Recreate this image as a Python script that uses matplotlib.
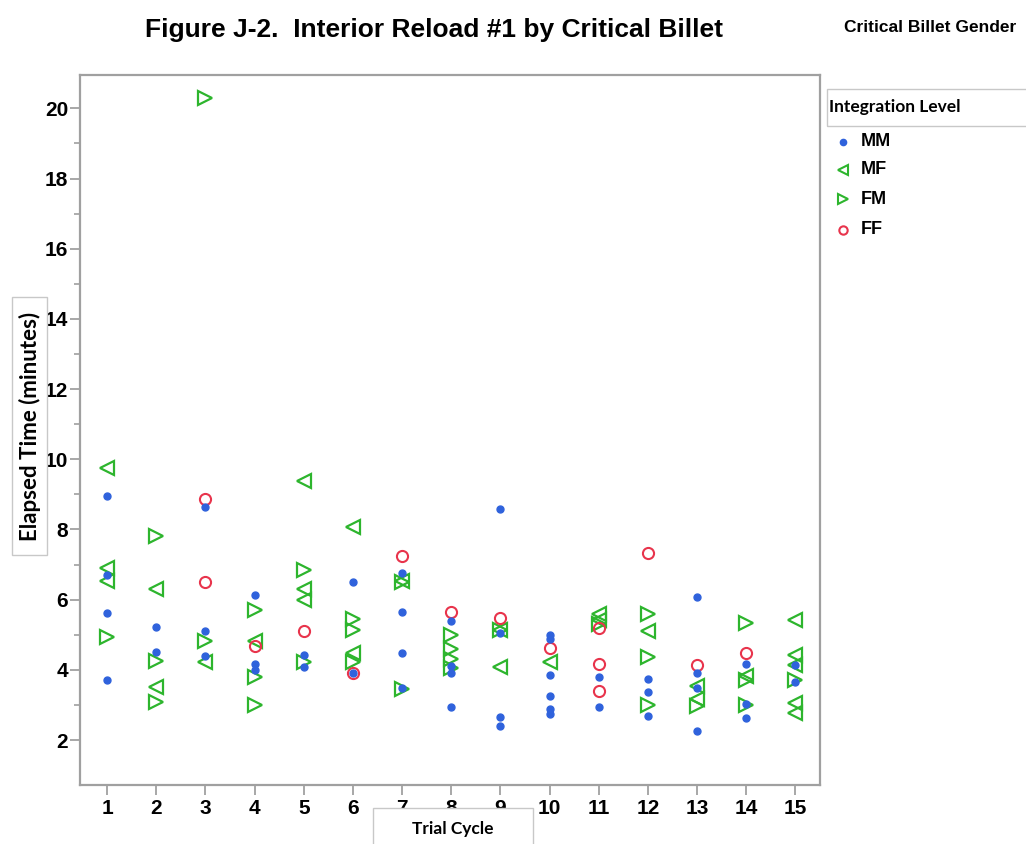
import matplotlib
matplotlib.use("Agg")
import matplotlib.pyplot as plt
from matplotlib.lines import Line2D
from matplotlib.patches import Rectangle

# Datos (ciclo -> tiempos en minutos)
trials = list(range(1, 16))

mm = {1: [8.96, 6.70, 5.63, 3.71], 2: [5.21, 4.52], 3: [8.65, 5.11, 4.39],
      4: [6.12, 4.17, 4.01], 5: [4.42, 4.09], 6: [6.51, 3.90],
      7: [6.75, 5.66, 4.47, 3.47], 8: [5.39, 4.11, 3.90, 2.95],
      9: [8.57, 5.05, 2.66, 2.40], 10: [4.99, 4.87, 3.85, 3.27, 2.89, 2.74],
      11: [3.81, 2.95], 12: [3.74, 3.38, 2.68], 13: [6.08, 3.92, 3.47, 2.26],
      14: [4.17, 3.03, 2.62], 15: [4.15, 3.65]}

mf = {1: [9.74, 6.89, 6.54], 2: [6.30, 3.50], 3: [4.23], 4: [4.82],
      5: [9.39, 6.30, 5.99], 6: [8.06, 4.47], 7: [6.54], 9: [5.15, 4.07],
      10: [4.23], 11: [5.60, 5.43], 12: [5.12], 13: [3.54, 3.16], 14: [3.82],
      15: [5.42, 4.43, 4.14, 3.05, 2.76]}

fm = {1: [4.93], 2: [7.82, 4.26, 3.09], 3: [20.29, 4.83], 4: [5.72, 3.80, 3.00],
      5: [6.85, 4.23], 6: [5.45, 5.14, 4.23], 7: [6.50, 3.45],
      8: [4.99, 4.60, 4.30, 4.04], 9: [5.15], 11: [5.30], 12: [5.60, 4.38, 3.00],
      13: [2.97], 14: [5.33, 3.70, 3.00], 15: [3.70]}

ff = {3: [8.86, 6.51], 4: [4.69], 5: [5.12], 6: [3.92], 7: [7.24], 8: [5.64],
      9: [5.49], 10: [4.61], 11: [5.18, 4.17, 3.40], 12: [7.32], 13: [4.14],
      14: [4.47]}

levels = ["MM", "MF", "FM", "FF"]
yticks = [2, 4, 6, 8, 10, 12, 14, 16, 18, 20]

azul = "#2f62dc"
verde = "#2db52d"
rojo = "#e8344c"
gris = "#a0a0a0"


def aplanar(d):
    xs, ys = [], []
    for k, vals in d.items():
        for v in vals:
            xs.append(k)
            ys.append(v)
    return xs, ys


fig = plt.figure(figsize=(10.26, 8.44), dpi=100)
ax = fig.add_axes([80 / 1026, 1 - 785 / 844, 740 / 1026, 710 / 844])

x, y = aplanar(fm)
ax.plot(x, y, ">", ms=10.5, mfc="none", mec=verde, mew=1.6, ls="none", zorder=2)
x, y = aplanar(mf)
ax.plot(x, y, "<", ms=10.5, mfc="none", mec=verde, mew=1.6, ls="none", zorder=2)
x, y = aplanar(ff)
ax.plot(x, y, "o", ms=8, mfc="none", mec=rojo, mew=1.5, ls="none", zorder=3)
x, y = aplanar(mm)
ax.plot(x, y, "o", ms=5, color=azul, ls="none", zorder=4)

ax.set_xlim(0.45, 15.5)
ax.set_ylim(0.72, 20.95)
ax.set_xticks(trials)
ax.set_yticks(yticks)
ax.set_yticks([3, 5, 7, 9, 11, 13, 15, 17, 19], minor=True)

for s in ax.spines.values():
    s.set_color(gris)
    s.set_linewidth(1.6)
ax.tick_params(axis="both", which="major", color=gris, width=1.3, length=7,
               labelsize=15)
ax.tick_params(axis="y", which="minor", color=gris, width=1.2, length=4)
ax.tick_params(axis="y", pad=1.5)
ax.tick_params(axis="x", pad=3)
for lab in ax.get_xticklabels() + ax.get_yticklabels():
    lab.set_fontfamily(["Liberation Sans", "DejaVu Sans"])
    lab.set_fontweight("bold")

fuente_narrow = ["Lato", "DejaVu Sans"]

# Titulos
fig.text(434 / 1026, 1 - 30 / 844, "Figure J-2.  Interior Reload #1 by Critical Billet",
         ha="center", va="center", fontsize=19, fontweight="bold",
         family=["Liberation Sans", "DejaVu Sans"])
fig.text(1016 / 1026, 1 - 27 / 844, "Critical Billet Gender", ha="right", va="center",
         fontsize=12.5, fontweight="bold", family=["Liberation Sans", "DejaVu Sans"])

# Etiquetas de ejes en cajas
fig.add_artist(Rectangle((12 / 1026, 1 - 555 / 844), 35 / 1026, 258 / 844,
                         transform=fig.transFigure, fc="white", ec="#c8c8c8", lw=1))
fig.text(30 / 1026, 1 - 426 / 844, "Elapsed Time (minutes)", rotation=90,
         ha="center", va="center", fontsize=16, fontweight="bold", family=fuente_narrow)
fig.add_artist(Rectangle((373 / 1026, -0.02), 160 / 1026, 36 / 844 + 0.02,
                         transform=fig.transFigure, fc="white", ec="#c8c8c8", lw=1))
fig.text(453 / 1026, 1 - 829 / 844, "Trial Cycle", ha="center", va="center",
         fontsize=12.5, fontweight="bold", family=fuente_narrow)

# Leyenda
fig.add_artist(Rectangle((827 / 1026, 1 - 126 / 844), 0.2, 37 / 844,
                         transform=fig.transFigure, fill=False, ec="#c8c8c8", lw=1))
fig.text(829 / 1026, 1 - 107 / 844, "Integration Level", ha="left", va="center",
         fontsize=12.5, fontweight="bold", family=fuente_narrow)

estilos = [("o", azul, azul, 4), ("<", "none", verde, 7), (">", "none", verde, 7),
           ("o", "none", rojo, 6)]
ys_leg = [142, 170, 199, 230]
for nivel, (m, fc, ec, ms), yy in zip(levels, estilos, ys_leg):
    fig.add_artist(Line2D([843 / 1026], [1 - yy / 844], marker=m, ms=ms, mfc=fc,
                          mec=ec, mew=1.5, ls="none", transform=fig.transFigure))
    fig.text(861 / 1026, 1 - yy / 844, nivel, ha="left", va="center", fontsize=13,
             fontweight="bold", family=["Liberation Sans", "DejaVu Sans"])

fig.savefig("out.png", dpi=100)
